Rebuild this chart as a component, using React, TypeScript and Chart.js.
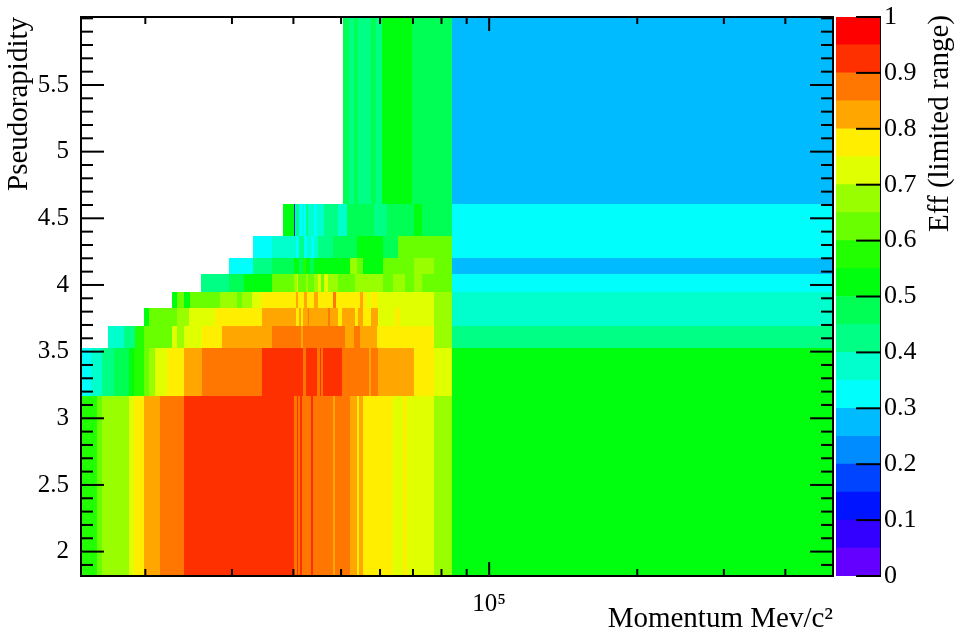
import React, { useEffect, useRef } from 'react';
import { Chart, registerables } from 'chart.js';
Chart.register(...registerables);

type Seg = [number, number, number];

const FONT = '"Liberation Serif", "Times New Roman", serif';

const X_MIN = 14800;
const X_MAX = 500000;
const Y_MIN = 1.817;
const Y_MAX = 6.01;

// pseudorapidity row edges
const etaEdges = [1.817, 3.17, 3.525, 3.69, 3.825, 3.95, 4.08, 4.2, 4.37, 4.61, 6.01];

// each row: [momentum from, momentum to, efficiency]
const rowA: Seg[] = [
  [14800, 15950, 0.57], [15950, 16330, 0.62], [16330, 18490, 0.67], [18490, 18930, 0.72],
  [18930, 19910, 0.77], [19910, 21460, 0.82], [21460, 23930, 0.87], [23930, 40100, 0.92],
  [40100, 40600, 0.87], [40600, 40900, 0.92], [40900, 41300, 0.87], [41300, 41600, 0.92],
  [41600, 43500, 0.87], [43500, 43930, 0.92], [43930, 48110, 0.87], [48110, 48700, 0.82],
  [48700, 52230, 0.87], [52230, 53890, 0.82], [53890, 54400, 0.77], [54400, 55500, 0.82],
  [55500, 63860, 0.77], [63860, 66800, 0.72], [66800, 68000, 0.77], [68000, 77230, 0.72],
  [77230, 84000, 0.67], [84000, 500000, 0.52],
];
const rowB: Seg[] = [
  [14800, 15530, 0.32], [15530, 16330, 0.37], [16330, 17240, 0.42], [17240, 18490, 0.47],
  [18490, 18930, 0.52], [18930, 19910, 0.57], [19910, 20380, 0.62], [20380, 20960, 0.67],
  [20960, 22140, 0.72], [22140, 23930, 0.77], [23930, 26090, 0.82], [26090, 34530, 0.87],
  [34530, 41800, 0.92], [41800, 42450, 0.87], [42450, 44630, 0.92], [44630, 45300, 0.87],
  [45300, 45600, 0.92], [45600, 45910, 0.87], [45910, 50230, 0.92], [50230, 56900, 0.87],
  [56900, 57550, 0.82], [57550, 59440, 0.87], [59440, 70330, 0.82], [70330, 77230, 0.77],
  [77230, 84000, 0.72], [84000, 500000, 0.52],
];
const rowC: Seg[] = [
  [16760, 18070, 0.37], [18070, 19020, 0.42], [19020, 19910, 0.57], [19910, 22660, 0.62],
  [22660, 23200, 0.72], [23200, 23930, 0.67], [23930, 26090, 0.72], [26090, 28650, 0.77],
  [28650, 36190, 0.82], [36190, 41470, 0.87], [41470, 41800, 0.82], [41800, 51020, 0.87],
  [51020, 53040, 0.82], [53040, 54730, 0.87], [54730, 59190, 0.82], [59190, 77230, 0.77],
  [77230, 84000, 0.67], [84000, 500000, 0.42],
];
const rowD: Seg[] = [
  [19910, 20380, 0.52], [20380, 23200, 0.62], [23200, 24500, 0.67], [24500, 27670, 0.72],
  [27670, 34530, 0.77], [34530, 40510, 0.82], [40510, 41140, 0.77], [41140, 41470, 0.82],
  [41470, 41800, 0.77], [41800, 42790, 0.82], [42790, 43110, 0.87], [43110, 47000, 0.82],
  [47000, 47500, 0.87], [47500, 49250, 0.82], [49250, 50230, 0.77], [50230, 53460, 0.82],
  [53460, 54000, 0.77], [54000, 55500, 0.82], [55500, 57550, 0.77], [57550, 59440, 0.82],
  [59440, 64370, 0.72], [64370, 65900, 0.77], [65900, 77230, 0.72], [77230, 84000, 0.67],
  [84000, 500000, 0.37],
];
const rowE: Seg[] = [
  [22660, 23200, 0.52], [23200, 23930, 0.62], [23930, 24650, 0.52], [24650, 28430, 0.62],
  [28430, 30710, 0.67], [30710, 31500, 0.62], [31500, 33000, 0.67], [33000, 34420, 0.72],
  [34420, 40510, 0.77], [40510, 40900, 0.82], [40900, 42100, 0.77], [42100, 42600, 0.82],
  [42600, 44000, 0.77], [44000, 44840, 0.82], [44840, 48110, 0.77], [48110, 48900, 0.87],
  [48900, 54730, 0.77], [54730, 55500, 0.82], [55500, 56480, 0.77], [56480, 57550, 0.72],
  [57550, 59440, 0.77], [59440, 77230, 0.72], [77230, 84000, 0.67], [84000, 500000, 0.37],
];
const rowF: Seg[] = [
  [26000, 29530, 0.42], [29530, 31670, 0.47], [31670, 36190, 0.52], [36190, 40190, 0.62],
  [40190, 40600, 0.67], [40600, 40900, 0.72], [40900, 42400, 0.62], [42400, 42800, 0.67],
  [42800, 44000, 0.62], [44000, 44800, 0.67], [44800, 45500, 0.72], [45500, 46200, 0.62],
  [46200, 47000, 0.72], [47000, 49250, 0.67], [49250, 53460, 0.62], [53460, 60940, 0.67],
  [60940, 63860, 0.62], [63860, 67430, 0.67], [67430, 70330, 0.62], [70330, 73150, 0.67],
  [73150, 84000, 0.62], [84000, 500000, 0.32],
];
const rowG: Seg[] = [
  [29530, 33100, 0.32], [33100, 36190, 0.42], [36190, 40190, 0.47], [40190, 41000, 0.52],
  [41000, 41800, 0.47], [41800, 42500, 0.57], [42500, 43300, 0.52], [43300, 44000, 0.47],
  [44000, 52230, 0.52], [52230, 53890, 0.67], [53890, 55500, 0.62], [55500, 60940, 0.52],
  [60940, 70330, 0.62], [70330, 77230, 0.67], [77230, 84000, 0.62], [84000, 500000, 0.27],
];
const rowH: Seg[] = [
  [33100, 36190, 0.32], [36190, 40500, 0.37], [40500, 41100, 0.32], [41100, 42000, 0.42],
  [42000, 42600, 0.32], [42600, 43500, 0.37], [43500, 44000, 0.32], [44000, 44840, 0.37],
  [44840, 48110, 0.42], [48110, 53890, 0.47], [53890, 60940, 0.52], [60940, 65270, 0.47],
  [65270, 84000, 0.62], [84000, 500000, 0.32],
];
const rowI: Seg[] = [
  [38060, 40040, 0.52], [40040, 40320, 0.12], [40320, 41140, 0.42], [41140, 41800, 0.32],
  [41800, 42100, 0.37], [42100, 42450, 0.32], [42450, 42800, 0.42], [42800, 44000, 0.37],
  [44000, 44600, 0.32], [44600, 46260, 0.37], [46260, 49250, 0.42], [49250, 51430, 0.37],
  [51430, 58260, 0.47], [58260, 61910, 0.42], [61910, 70330, 0.47], [70330, 73150, 0.52],
  [73150, 84000, 0.47], [84000, 500000, 0.32],
];
const rowJ: Seg[] = [
  [50380, 51810, 0.47], [51810, 53040, 0.42], [53040, 54040, 0.47], [54040, 57550, 0.42],
  [57550, 58910, 0.47], [58910, 60480, 0.42], [60480, 69610, 0.52], [69610, 84000, 0.47],
  [84000, 500000, 0.27],
];
const rows: Seg[][] = [rowA, rowB, rowC, rowD, rowE, rowF, rowG, rowH, rowI, rowJ];

// 20-level colour palette (0 .. 1)
const palette = [
  '#6300ff', '#3300ff', '#0014ff', '#0044ff', '#008bff',
  '#00bbff', '#00fffc', '#00ffcc', '#00ff85', '#00ff55',
  '#00ff0e', '#22ff00', '#69ff00', '#99ff00', '#e0ff00',
  '#ffee00', '#ffa700', '#ff7700', '#ff3000', '#ff0000',
];
const zLevels = [0, 0.05, 0.1, 0.15, 0.2, 0.25, 0.3, 0.35, 0.4, 0.45, 0.5, 0.55, 0.6, 0.65, 0.7, 0.75, 0.8, 0.85, 0.9, 0.95, 1];

// ticks
const xMajorTicks = [100000];
const xTickLabels = ['10\u2075'];
const xMinorTicks = [20000, 30000, 40000, 50000, 60000, 70000, 80000, 90000, 200000, 300000, 400000];
const yMajorTicks = [2, 2.5, 3, 3.5, 4, 4.5, 5, 5.5];
const yTickLabels = ['2', '2.5', '3', '3.5', '4', '4.5', '5', '5.5'];
const yMinorTicks = [1.9, 2.1, 2.2, 2.3, 2.4, 2.6, 2.7, 2.8, 2.9, 3.1, 3.2, 3.3, 3.4, 3.6, 3.7, 3.8, 3.9,
  4.1, 4.2, 4.3, 4.4, 4.6, 4.7, 4.8, 4.9, 5.1, 5.2, 5.3, 5.4, 5.6, 5.7, 5.8, 5.9, 6.0];
const zTicks = [0, 0.1, 0.2, 0.3, 0.4, 0.5, 0.6, 0.7, 0.8, 0.9, 1];
const zTickLabels = ['0', '0.1', '0.2', '0.3', '0.4', '0.5', '0.6', '0.7', '0.8', '0.9', '1'];

const colorOf = (v: number) => palette[Math.max(0, Math.min(19, Math.floor(v * 20)))];

const heatmapPlugin = {
  id: 'heatmap',
  beforeDatasetsDraw(chart: any) {
    const { ctx, chartArea: a, scales } = chart;
    const x = scales.x, y = scales.y;
    ctx.save();
    ctx.beginPath();
    ctx.rect(a.left, a.top, a.right - a.left, a.bottom - a.top);
    ctx.clip();
    rows.forEach((segs, r) => {
      const yt = Math.round(y.getPixelForValue(etaEdges[r + 1]));
      const yb = Math.round(y.getPixelForValue(etaEdges[r]));
      segs.forEach(([p0, p1, v]) => {
        const x0 = Math.round(x.getPixelForValue(p0));
        const x1 = Math.max(x0 + 1, Math.round(x.getPixelForValue(p1)));
        ctx.fillStyle = colorOf(v);
        ctx.fillRect(x0, yt, x1 - x0, yb - yt);
      });
    });
    ctx.restore();
  },
  afterDraw(chart: any) {
    const { ctx, chartArea: a, scales } = chart;
    const x = scales.x, y = scales.y;
    ctx.save();
    ctx.strokeStyle = '#000';
    ctx.lineWidth = 2;
    const line = (x0: number, y0: number, x1: number, y1: number) => {
      ctx.beginPath(); ctx.moveTo(x0, y0); ctx.lineTo(x1, y1); ctx.stroke();
    };
    xMinorTicks.forEach((v) => {
      const px = x.getPixelForValue(v);
      line(px, a.bottom, px, a.bottom - 7);
      line(px, a.top, px, a.top + 7);
    });
    xMajorTicks.forEach((v) => {
      const px = x.getPixelForValue(v);
      line(px, a.bottom, px, a.bottom - 14);
      line(px, a.top, px, a.top + 14);
    });
    yMinorTicks.forEach((v) => {
      const py = y.getPixelForValue(v);
      line(a.left, py, a.left + 12, py);
      line(a.right, py, a.right - 12, py);
    });
    yMajorTicks.forEach((v) => {
      const py = y.getPixelForValue(v);
      line(a.left, py, a.left + 23, py);
      line(a.right, py, a.right - 23, py);
    });
    ctx.strokeRect(a.left, a.top, a.right - a.left, a.bottom - a.top);
    ctx.restore();
  },
};

const colorbarPlugin = {
  id: 'colorbarDecor',
  afterDraw(chart: any) {
    const { ctx, chartArea: a, scales } = chart;
    const y = scales.y;
    ctx.save();
    ctx.strokeStyle = '#000';
    ctx.lineWidth = 2;
    zTicks.forEach((v) => {
      const py = y.getPixelForValue(v);
      ctx.beginPath(); ctx.moveTo(a.right - 24, py); ctx.lineTo(a.right, py); ctx.stroke();
    });
    ctx.translate(104, a.top - 2);
    ctx.rotate(-Math.PI / 2);
    ctx.fillStyle = '#000';
    ctx.font = `29px ${FONT}`;
    ctx.textAlign = 'right';
    ctx.textBaseline = 'middle';
    ctx.fillText('Eff (limited range)', 0, 0);
    ctx.restore();
  },
};

export default function App() {
  const mainRef = useRef<HTMLCanvasElement>(null);
  const barRef = useRef<HTMLCanvasElement>(null);

  useEffect(() => {
    const tickFont = { family: FONT, size: 25 };
    const titleFont = { family: FONT, size: 29 };
    const main = new Chart(mainRef.current as HTMLCanvasElement, {
      type: 'scatter',
      data: { datasets: [] },
      options: {
        animation: false,
        responsive: false,
        layout: { padding: { left: 0, right: 123, top: 17, bottom: 0 } },
        plugins: { legend: { display: false }, tooltip: { enabled: false } },
        scales: {
          x: {
            type: 'logarithmic',
            min: X_MIN,
            max: X_MAX,
            position: 'bottom',
            grid: { display: false, drawTicks: false },
            border: { display: false },
            afterBuildTicks: (s: any) => { s.ticks = xMajorTicks.map((v) => ({ value: v })); },
            ticks: {
              callback: (_v: any, i: number) => xTickLabels[i],
              font: tickFont, color: '#000', padding: 13, maxRotation: 0, autoSkip: false,
            },
            title: {
              display: true, text: 'Momentum Mev/c\u00b2', align: 'end', color: '#000',
              font: titleFont, padding: { top: 0, bottom: 0 },
            },
            afterFit: (s: any) => { s.height = 61; s.paddingLeft = 0; s.paddingRight = 0; },
          } as any,
          y: {
            type: 'linear',
            min: Y_MIN,
            max: Y_MAX,
            grid: { display: false, drawTicks: false },
            border: { display: false },
            afterBuildTicks: (s: any) => { s.ticks = yMajorTicks.map((v) => ({ value: v })); },
            ticks: {
              callback: (_v: any, i: number) => yTickLabels[i],
              font: tickFont, color: '#000', padding: 12, autoSkip: false,
            },
            title: {
              display: true, text: 'Pseudorapidity', align: 'end', color: '#000',
              font: titleFont, padding: { top: 2, bottom: 0 },
            },
            afterFit: (s: any) => { s.width = 81; s.paddingTop = 0; s.paddingBottom = 0; },
          } as any,
        },
      },
      plugins: [heatmapPlugin],
    } as any);

    const bar = new Chart(barRef.current as HTMLCanvasElement, {
      type: 'bar',
      data: {
        labels: [''],
        datasets: palette.map((c, i) => ({
          data: [[zLevels[i], zLevels[i + 1]]],
          backgroundColor: c,
          borderWidth: 0,
          barPercentage: 1,
          categoryPercentage: 1,
          grouped: false,
        })),
      },
      options: {
        animation: false,
        responsive: false,
        layout: { padding: { left: 0, right: 0, top: 17, bottom: 61 } },
        plugins: { legend: { display: false }, tooltip: { enabled: false } },
        scales: {
          x: { display: false },
          y: {
            position: 'right',
            min: 0,
            max: 1,
            grid: { display: false, drawTicks: false },
            border: { display: true, color: '#000', width: 2 },
            afterBuildTicks: (s: any) => { s.ticks = zTicks.map((v) => ({ value: v })); },
            ticks: {
              callback: (_v: any, i: number) => zTickLabels[i],
              font: { family: FONT, size: 26 }, color: '#000', padding: 4, autoSkip: false,
            },
            afterFit: (s: any) => { s.width = 76; s.paddingTop = 0; s.paddingBottom = 0; },
          } as any,
        },
      },
      plugins: [colorbarPlugin],
    } as any);

    return () => { main.destroy(); bar.destroy(); };
  }, []);

  return (
    <div style={{ position: 'absolute', left: 0, top: 0, width: 956, height: 637, background: '#fff' }}>
      <canvas ref={mainRef} width={956} height={637} style={{ position: 'absolute', left: 0, top: 0 }} />
      <canvas ref={barRef} width={120} height={637} style={{ position: 'absolute', left: 836, top: 0 }} />
    </div>
  );
}
